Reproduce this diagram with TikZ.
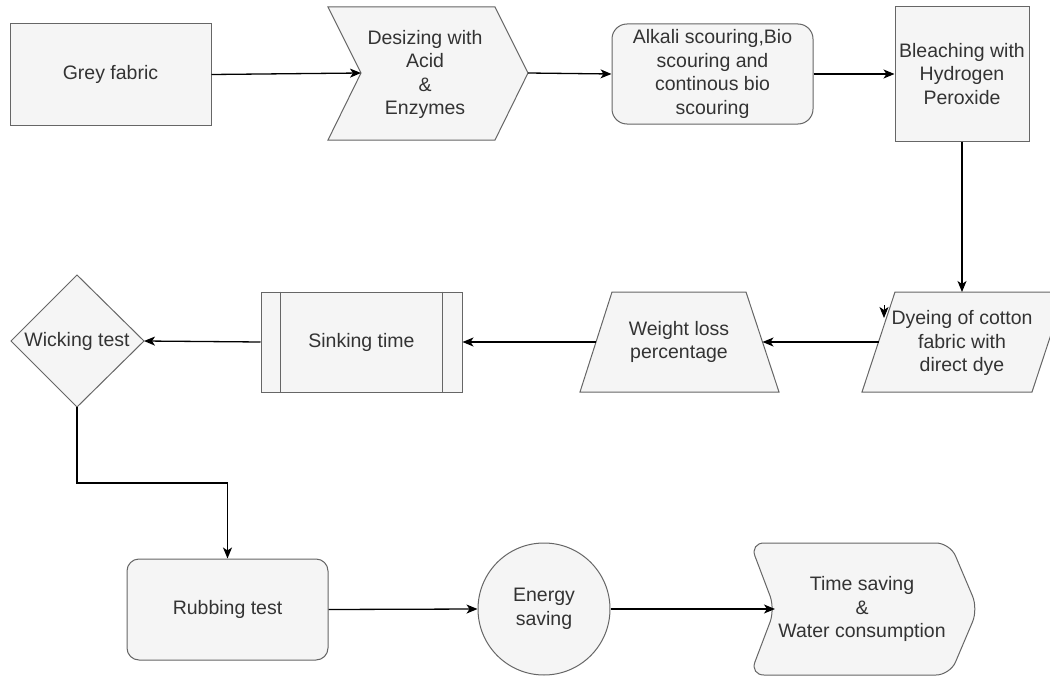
\documentclass[tikz,border=0pt]{standalone}
\usepackage{fontspec}
\setmainfont{Liberation Sans}
\usetikzlibrary{arrows.meta,calc}
\definecolor{shapefill}{HTML}{F5F5F5}
\definecolor{shapeline}{HTML}{666666}
\definecolor{txt}{HTML}{333333}
\begin{document}
\begin{tikzpicture}[x=1pt,y=-1pt,
  shp/.style={draw=shapeline, fill=shapefill, line width=1pt},
  lbl/.style={text=txt, font=\fontsize{19.5}{23.6}\selectfont, align=center, inner sep=0pt},
  boxnode/.style={shp, lbl, minimum width=#1},
  conn/.style={draw=black, line width=1.3pt, -{Stealth[length=11pt,width=9pt,inset=3pt]}}
]
\useasboundingbox (0,0) rectangle (1050,677);
\fill[white] (0,0) rectangle (1050,677);

% Grey fabric
\node[boxnode=201pt, minimum height=101pt] (grey) at (110.5,74.5) {Grey fabric};

% Desizing chevron
\draw[shp] (328,7) -- (495,7) -- (528,73) -- (495,140) -- (328,140) -- (361,73) -- cycle;
\coordinate (desW) at (361,73);
\coordinate (desE) at (528,73);
\node[lbl] (desize) at (425,74.5) {Desizing with\\Acid\\\&\\Enzymes};

% Alkali scouring
\node[boxnode=201pt, minimum height=100pt, rounded corners=15pt] (alkali) at (712.5,74) {Alkali scouring,Bio\\scouring and\\continous bio\\scouring};

% Bleaching
\node[boxnode=134pt, minimum height=134pt] (bleach) at (962,74) {Bleaching with\\Hydrogen\\Peroxide};

% Dyeing parallelogram
\draw[shp] (895,292) -- (1065,292) -- (1032,392) -- (862,392) -- cycle;
\coordinate (dyeN) at (962,292);
\coordinate (dyeW) at (878.5,342);
\node[lbl] (dye) at (962,343) {Dyeing of cotton\\fabric with\\direct dye};
\coordinate (stray) at (884,305);

% Weight loss trapezoid
\draw[shp] (612,292) -- (746,292) -- (779,392) -- (580,392) -- cycle;
\coordinate (wlE) at (762.5,342);
\coordinate (wlW) at (596,342);
\node[lbl] (weight) at (679,342) {Weight loss\\percentage};

% Sinking time process box
\node[boxnode=201pt, minimum height=100pt] (sink) at (361.5,342) {Sinking time};
\draw[draw=shapeline, line width=1pt] ($(sink.north west)+(20,0)$) -- ($(sink.south west)+(20,0)$);
\draw[draw=shapeline, line width=1pt] ($(sink.north east)+(-20,0)$) -- ($(sink.south east)+(-20,0)$);

% Wicking diamond
\draw[shp] (77,275) -- (144,341) -- (77,407) -- (11,341) -- cycle;
\coordinate (wickE) at (144,341);
\coordinate (wickS) at (77,407);
\node[lbl] (wick) at (77,341) {Wicking test};

% Rubbing test
\node[boxnode=201pt, minimum height=101pt, rounded corners=12pt] (rub) at (227.5,609.5) {Rubbing test};

% Energy saving
\node[shp, lbl, circle, minimum size=132pt] (energy) at (544,609) {Energy\\saving};

% Time saving rounded chevron
\draw[shp, rounded corners=14pt] (775,609) -- (750,543) -- (950,543) -- (978,609) -- (950,675) -- (750,675) -- cycle;
\coordinate (timeW) at (775,609);
\node[lbl] (time) at (862,609) {Time saving\\\&\\Water consumption};

% Connectors
\draw[conn] (grey.east) -- (desW);
\draw[conn] (desE) -- (alkali.west);
\draw[conn] (alkali.east) -- (bleach.west);
\draw[conn] (bleach.south) -- (dyeN);
\draw[conn, line width=1pt] (stray) -- ++(0,13);
\draw[conn] (dyeW) -- (wlE);
\draw[conn] (wlW) -- (sink.east);
\draw[conn] (sink.west) -- (wickE);
\draw[conn] (wickS) -- ++(0,76) -| (rub.north);
\draw[conn] (rub.east) -- (energy.west);
\draw[conn] (energy.east) -- (timeW);
\end{tikzpicture}
\end{document}
